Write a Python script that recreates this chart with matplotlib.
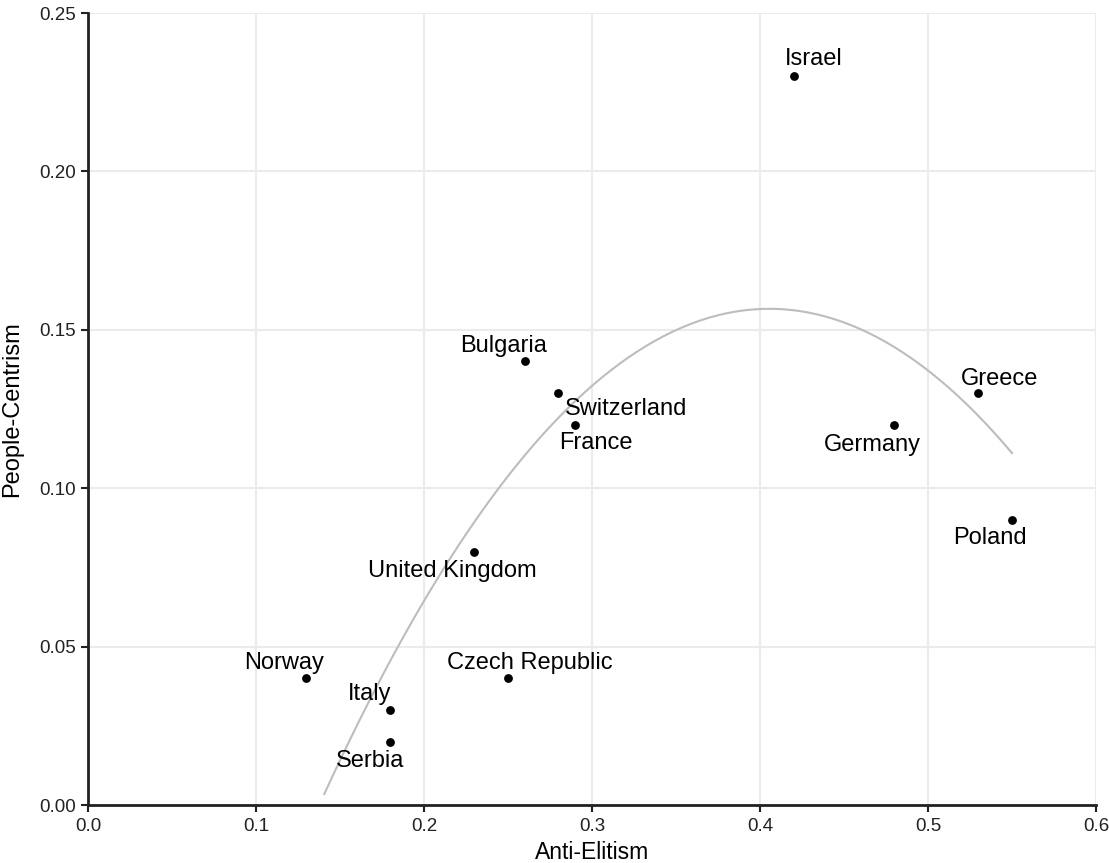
import matplotlib.pyplot as plt
import numpy as np

plt.rcParams['font.family'] = ['Liberation Sans', 'DejaVu Sans']

# party scores per country
countries = ['Israel', 'Bulgaria', 'Switzerland', 'France', 'Germany', 'Greece',
             'Poland', 'United Kingdom', 'Norway', 'Czech Republic', 'Italy', 'Serbia']
anti_elitism = [0.42, 0.26, 0.28, 0.29, 0.48, 0.53, 0.55, 0.23, 0.13, 0.25, 0.18, 0.18]
people_centrism = [0.23, 0.14, 0.13, 0.12, 0.12, 0.13, 0.09, 0.08, 0.04, 0.04, 0.03, 0.02]

x_ticks = [0.0, 0.1, 0.2, 0.3, 0.4, 0.5, 0.6]
y_ticks = [0.00, 0.05, 0.10, 0.15, 0.20, 0.25]

# label nudges in pixels (dx, dy)
nudge = {
    'Israel': (20, 17), 'Bulgaria': (-21, 15), 'Switzerland': (68, -16),
    'France': (21, -18), 'Germany': (-22, -20), 'Greece': (21, 14),
    'Poland': (-22, -18), 'United Kingdom': (-22, -19), 'Norway': (-22, 15),
    'Czech Republic': (22, 15), 'Italy': (-21, 16), 'Serbia': (-20, -19),
}

x = np.array(anti_elitism)
y = np.array(people_centrism)

# quadratic fit, evaluated on 80 points and cut at the axis floor
coef = np.polyfit(x, y, 2)
xs = np.linspace(x.min(), x.max(), 80)
ys = np.polyval(coef, xs)
keep = ys >= 0
xs, ys = xs[keep], ys[keep]

fig = plt.figure(figsize=(11.09, 8.63), dpi=100)
ax = fig.add_axes([88 / 1109, 1 - 805 / 863, (1096 - 88) / 1109, (805 - 13) / 863])

ax.plot(xs, ys, color='#bdbdbd', lw=1.5, zorder=2)
ax.scatter(x, y, s=40, color='black', zorder=3, linewidths=0)

for name, xi, yi in zip(countries, x, y):
    dx, dy = nudge[name]
    ax.annotate(name, (xi, yi), xytext=(dx, dy), textcoords='offset pixels',
                ha='center', va='center', fontsize=17, color='black', zorder=4)

ax.set_xlim(0, 0.6)
ax.set_ylim(0, 0.25)
ax.set_xticks(x_ticks)
ax.set_yticks(y_ticks)
ax.set_xticklabels([f'{t:.1f}' for t in x_ticks])
ax.set_yticklabels([f'{t:.2f}' for t in y_ticks])
ax.grid(True, color='#ebebeb', lw=1.5)
ax.set_axisbelow(True)

for side in ['top', 'right']:
    ax.spines[side].set_visible(False)
for side in ['left', 'bottom']:
    ax.spines[side].set_color('#222222')
    ax.spines[side].set_linewidth(2)
ax.tick_params(length=5, width=1.5, color='#222222', labelsize=13.5, labelcolor='#222222', pad=4)

ax.set_xlabel('Anti-Elitism', fontsize=16.5, labelpad=5)
ax.set_ylabel('People-Centrism', fontsize=17, labelpad=11)

fig.savefig('out.png', dpi=100)
